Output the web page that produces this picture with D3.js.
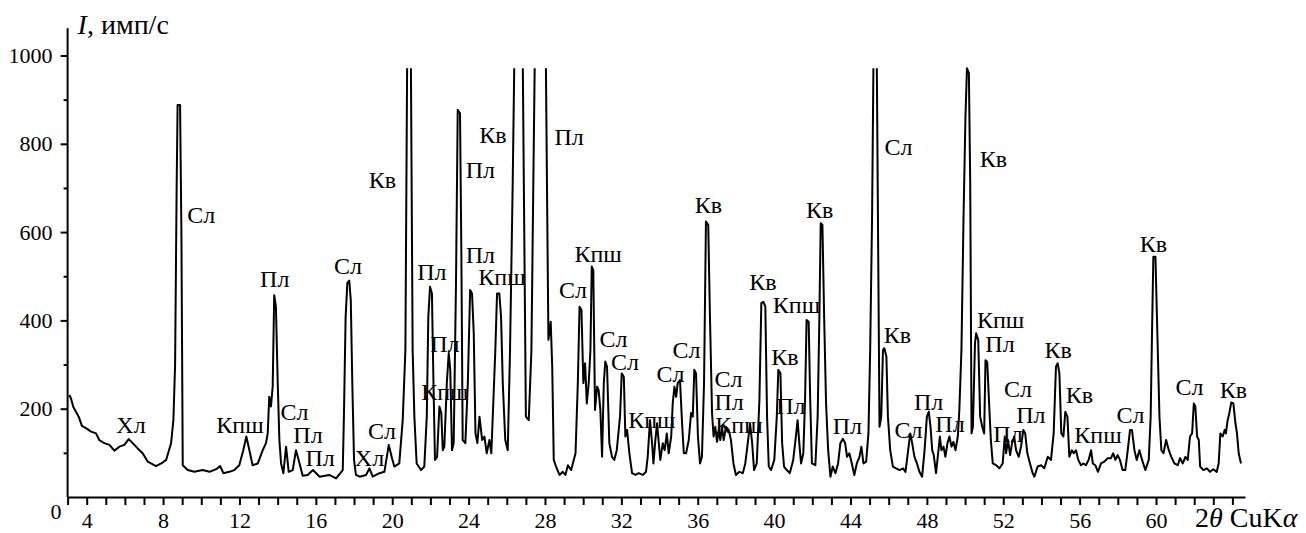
<!DOCTYPE html>
<html>
<head>
<meta charset="utf-8">
<script src="https://cdn.jsdelivr.net/npm/d3@7"></script>
<style>
  body { margin: 0; background: #fff; }
</style>
</head>
<body>
<div id="chart"></div>
<script>
// diffraction pattern: 2theta (deg) and intensity (imp/s)
const twoTheta = [
  3.09, 3.18, 3.30, 3.44, 3.58, 3.75, 3.96, 4.23, 4.49, 4.66, 4.92, 5.19, 5.45, 5.71, 5.97, 6.20, 6.41, 6.67, 6.93, 7.20,
  7.63, 7.98, 8.16, 8.42, 8.54, 8.63, 8.71, 8.76, 8.89, 8.96, 9.03, 9.29, 9.64, 10.07, 10.43, 10.78, 10.99, 11.16, 11.47, 11.73,
  11.99, 12.20, 12.36, 12.52, 12.69, 12.96, 13.22, 13.39, 13.48, 13.56, 13.65, 13.74, 13.82, 13.91, 14.00, 14.09, 14.18, 14.30, 14.44, 14.58,
  14.79, 14.96, 15.10, 15.31, 15.57, 15.85, 16.20, 16.70, 17.06, 17.41, 17.47, 17.56, 17.65, 17.75, 17.83, 17.91, 18.00, 18.10, 18.30, 18.63,
  18.81, 18.98, 19.33, 19.59, 19.82, 19.99, 20.11, 20.37, 20.55, 20.69, 20.78, 20.98, 21.07, 21.16, 21.28, 21.51, 21.68, 21.81, 21.89, 21.98,
  22.08, 22.16, 22.24, 22.35, 22.47, 22.57, 22.65, 22.73, 22.86, 22.96, 23.04, 23.13, 23.22, 23.34, 23.43, 23.55, 23.62, 23.69, 23.83, 23.96,
  24.08, 24.18, 24.27, 24.36, 24.46, 24.57, 24.71, 24.83, 24.95, 25.09, 25.19, 25.30, 25.40, 25.49, 25.61, 25.70, 25.79, 25.92, 26.05, 26.17,
  26.31, 26.39, 26.84, 27.00, 27.15, 27.29, 27.39, 27.46, 28.05, 28.12, 28.18, 28.30, 28.38, 28.46, 28.58, 28.76, 28.93, 29.07, 29.20, 29.37,
  29.60, 29.72, 29.81, 29.91, 30.01, 30.10, 30.19, 30.29, 30.38, 30.45, 30.53, 30.62, 30.73, 30.81, 30.90, 30.99, 31.08, 31.16, 31.25, 31.37,
  31.51, 31.63, 31.76, 31.93, 32.02, 32.13, 32.21, 32.30, 32.42, 32.56, 32.74, 32.91, 33.12, 33.29, 33.38, 33.50, 33.61, 33.68, 33.78, 33.87,
  33.96, 34.04, 34.17, 34.27, 34.38, 34.48, 34.61, 34.69, 34.78, 34.87, 34.95, 35.07, 35.18, 35.27, 35.39, 35.53, 35.65, 35.74, 35.82, 35.91,
  36.01, 36.12, 36.22, 36.33, 36.43, 36.55, 36.64, 36.75, 36.83, 36.92, 37.01, 37.10, 37.18, 37.27, 37.36, 37.48, 37.62, 37.74, 37.87, 38.00,
  38.18, 38.36, 38.49, 38.62, 38.74, 38.85, 38.95, 39.09, 39.23, 39.33, 39.44, 39.54, 39.63, 39.72, 39.84, 40.01, 40.14, 40.22, 40.33, 40.42,
  40.52, 40.66, 40.82, 41.00, 41.14, 41.23, 41.32, 41.41, 41.53, 41.62, 41.70, 41.81, 41.89, 41.98, 42.16, 42.28, 42.37, 42.44, 42.53, 42.62,
  42.72, 42.83, 42.95, 43.07, 43.21, 43.35, 43.47, 43.60, 43.72, 43.82, 43.94, 44.07, 44.20, 44.33, 44.47, 44.57, 44.68, 44.82, 44.94, 45.03,
  45.13, 45.20, 45.38, 45.45, 45.52, 45.61, 45.70, 45.77, 45.88, 45.96, 46.08, 46.22, 46.39, 46.57, 46.75, 46.88, 47.02, 47.13, 47.23, 47.35,
  47.48, 47.61, 47.75, 47.88, 48.00, 48.10, 48.19, 48.28, 48.36, 48.48, 48.59, 48.68, 48.76, 48.87, 48.97, 49.08, 49.18, 49.29, 49.39, 49.50,
  49.62, 49.70, 49.81, 49.92, 50.02, 50.10, 50.20, 50.27, 50.34, 50.41, 50.52, 50.58, 50.69, 50.79, 50.90, 51.00, 51.07, 51.16, 51.25, 51.35,
  51.45, 51.63, 51.80, 51.97, 52.08, 52.15, 52.25, 52.36, 52.46, 52.57, 52.67, 52.81, 52.93, 53.05, 53.15, 53.26, 53.40, 53.54, 53.63, 53.80,
  53.98, 54.15, 54.33, 54.50, 54.64, 54.76, 54.85, 54.94, 55.04, 55.15, 55.25, 55.36, 55.46, 55.59, 55.69, 55.81, 55.93, 56.07, 56.19, 56.33,
  56.47, 56.60, 56.69, 56.82, 56.96, 57.12, 57.29, 57.47, 57.64, 57.76, 57.87, 57.99, 58.11, 58.25, 58.39, 58.52, 58.64, 58.74, 58.87, 58.99,
  59.13, 59.27, 59.44, 59.62, 59.72, 59.79, 59.86, 59.97, 60.07, 60.18, 60.28, 60.39, 60.53, 60.67, 60.80, 60.96, 61.14, 61.26, 61.40, 61.54,
  61.66, 61.78, 61.89, 61.98, 62.06, 62.15, 62.24, 62.31, 62.48, 62.66, 62.83, 63.00, 63.18, 63.28, 63.37, 63.49, 63.60, 63.66, 63.75, 63.84,
  63.94, 64.05, 64.16, 64.24, 64.33, 64.45
];
const intensity = [
  231, 223, 204, 193, 182, 161, 156, 148, 144, 129, 122, 118, 105, 114, 118, 131, 122, 110, 99, 80,
  70, 78, 84, 122, 174, 300, 700, 888, 888, 600, 72, 61, 57, 61, 57, 63, 70, 54, 57, 61,
  72, 106, 137, 106, 72, 76, 106, 122, 144, 227, 205, 250, 457, 431, 265, 129, 76, 54, 114, 57,
  61, 106, 84, 48, 50, 61, 46, 50, 42, 61, 182, 408, 485, 490, 446, 258, 84, 50, 46, 50,
  65, 46, 54, 57, 118, 88, 69, 76, 174, 333, 971, 971, 333, 182, 76, 61, 69, 182, 408, 476,
  461, 258, 84, 91, 205, 190, 106, 114, 258, 326, 288, 106, 122, 484, 877, 869, 559, 129, 122, 258,
  469, 461, 371, 144, 122, 182, 129, 137, 99, 129, 99, 220, 333, 461, 461, 408, 258, 129, 106, 333,
  711, 971, 971, 182, 174, 333, 711, 971, 971, 635, 356, 397, 295, 84, 69, 50, 57, 50, 72, 61,
  99, 258, 431, 424, 258, 303, 212, 258, 333, 522, 514, 197, 250, 242, 197, 91, 258, 307, 295, 122,
  91, 84, 106, 182, 280, 272, 137, 152, 99, 54, 50, 54, 50, 57, 91, 174, 122, 76, 129, 167,
  122, 84, 122, 106, 144, 99, 137, 212, 250, 227, 258, 265, 167, 99, 99, 129, 190, 182, 288, 280,
  137, 76, 91, 258, 624, 616, 408, 190, 137, 159, 125, 152, 129, 159, 129, 159, 152, 129, 76, 50,
  57, 54, 76, 122, 167, 122, 61, 76, 220, 439, 442, 431, 182, 69, 61, 84, 182, 288, 280, 122,
  69, 61, 54, 84, 137, 174, 122, 76, 99, 220, 401, 397, 220, 76, 72, 182, 408, 620, 616, 408,
  212, 106, 46, 69, 54, 76, 122, 132, 122, 91, 99, 76, 50, 76, 91, 114, 76, 80, 144, 333,
  635, 971, 971, 559, 159, 182, 333, 337, 318, 182, 106, 69, 65, 61, 65, 57, 106, 144, 122, 91,
  76, 57, 46, 106, 182, 193, 159, 106, 95, 54, 99, 137, 106, 114, 91, 122, 137, 114, 125, 106,
  137, 197, 333, 635, 861, 971, 960, 711, 144, 159, 348, 371, 356, 182, 159, 144, 310, 306, 220, 129,
  76, 72, 65, 76, 137, 99, 129, 95, 122, 137, 106, 91, 114, 152, 144, 99, 76, 54, 46, 69,
  72, 65, 91, 84, 144, 295, 303, 280, 144, 137, 193, 182, 91, 106, 99, 106, 84, 72, 76, 72,
  84, 106, 76, 72, 57, 76, 80, 88, 88, 99, 84, 95, 84, 61, 61, 106, 152, 152, 106, 84,
  106, 84, 61, 84, 182, 371, 544, 544, 371, 182, 106, 99, 129, 106, 91, 76, 72, 88, 76, 91,
  84, 137, 144, 212, 205, 137, 129, 69, 61, 65, 57, 63, 57, 76, 144, 137, 152, 144, 174, 190,
  214, 212, 167, 144, 99, 76
];
// peaks above this level are cut off in the picture
const clipLevel = 971;

// phase labels: text, 2theta of the label centre, intensity level of its baseline
const labelText = [
  "Хл", "Сл", "Кпш", "Пл", "Сл", "Пл", "Пл", "Сл", "Хл", "Сл",
  "Кв", "Пл", "Пл", "Кпш", "Кв", "Пл", "Пл", "Кпш", "Пл", "Сл",
  "Кпш", "Сл", "Сл", "Кпш", "Сл", "Сл", "Кв", "Сл", "Пл", "Кпш",
  "Кв", "Кпш", "Кв", "Пл", "Кв", "Пл", "Сл", "Кв", "Сл", "Пл",
  "Пл", "Кв", "Кпш", "Пл", "Сл", "Пл", "Пл", "Кв", "Кв", "Кпш",
  "Сл", "Кв", "Сл", "Кв"
];
const labelTheta = [
  6.32, 10.00, 12.03, 13.85, 14.88, 15.59, 16.22, 17.68, 18.81, 19.46,
  19.49, 22.08, 22.76, 22.76, 25.28, 24.62, 24.62, 25.75, 29.26, 29.47,
  30.78, 31.59, 32.19, 33.60, 34.57, 35.41, 36.56, 37.61, 37.64, 38.16,
  39.42, 41.17, 40.57, 40.88, 42.38, 43.84, 46.51, 46.46, 47.04, 48.09,
  49.21, 51.49, 51.86, 51.83, 52.77, 53.45, 52.25, 54.87, 55.99, 56.96,
  58.66, 59.87, 61.75, 64.06
];
const labelLevel = [
  145, 621, 145, 476, 174, 122, 70, 505, 70, 131,
  701, 492, 328, 220, 802, 723, 530, 480, 797, 451,
  532, 340, 288, 156, 260, 315, 643, 250, 197, 145,
  469, 417, 299, 188, 632, 143, 775, 349, 134, 197,
  147, 747, 383, 328, 226, 168, 125, 315, 213, 122,
  168, 555, 231, 224
];

const xTicks = d3.range(3, 65);
const xLabelled = d3.range(4, 61, 4);
const yTicks = d3.range(100, 1001, 100);
const yTop = 1062;

const FONT = "'Liberation Serif', 'Times New Roman', 'DejaVu Serif', serif";
const W = 1306, H = 533;
const svg = d3.select("#chart").append("svg")
  .attr("width", W).attr("height", H)
  .style("font-family", FONT);

const x = d3.scaleLinear().domain([3, 64.66]).range([67.6, 1245]);
const y = d3.scaleLinear().domain([0, 1000]).range([497, 55.5]);

// x axis
const gx = svg.append("g")
  .attr("transform", `translate(0,${y(0)})`)
  .call(d3.axisBottom(x)
    .tickValues(xTicks)
    .tickSize(8)
    .tickSizeOuter(0)
    .tickPadding(7)
    .tickFormat(d => xLabelled.includes(d) ? d : ""));
gx.attr("font-family", null);
gx.selectAll("text").style("font-size", "22px").style("font-family", FONT).attr("fill", "#000");
gx.selectAll("line, path").attr("stroke", "#000").attr("stroke-width", 2);

// y axis, minor ticks every 100
const gy = svg.append("g")
  .attr("transform", `translate(${x(3)},0)`)
  .call(d3.axisLeft(y)
    .tickValues(yTicks)
    .tickSizeOuter(0)
    .tickSize(7)
    .tickPadding(8)
    .tickFormat(d => d % 200 === 0 ? d : ""));
gy.attr("font-family", null);
gy.select(".domain").attr("d", `M0,${y(0)}V${y(yTop)}`);
gy.selectAll(".tick line").attr("x2", d => d % 200 === 0 ? -7 : -4);
gy.selectAll("text").style("font-size", "22px").style("font-family", FONT).attr("fill", "#000");
gy.selectAll("line, path").attr("stroke", "#000").attr("stroke-width", 2);

// origin label
svg.append("text")
  .attr("x", x(3) - 6).attr("y", y(0) + 22)
  .attr("text-anchor", "end")
  .style("font-size", "22px")
  .text("0");

// axis titles
const yt = svg.append("text")
  .attr("x", x(3) + 10).attr("y", 34)
  .style("font-size", "28px");
yt.append("tspan").attr("font-style", "italic").text("I");
yt.append("tspan").text(", имп/с");

const xt = svg.append("text")
  .attr("x", 1195).attr("y", 527)
  .style("font-size", "28px");
xt.append("tspan").text("2");
xt.append("tspan").attr("font-style", "italic").text("θ");
xt.append("tspan").text(" CuK");
xt.append("tspan").attr("font-style", "italic").text("α");

// pattern: split where a peak runs off the top so the cut tops stay open
const pts = twoTheta.map((t, i) => [t, intensity[i]]);
const pieces = [[pts[0]]];
for (let i = 1; i < pts.length; i++) {
  if (pts[i][1] >= clipLevel && pts[i - 1][1] >= clipLevel) pieces.push([]);
  pieces[pieces.length - 1].push(pts[i]);
}
const line = d3.line()
  .x(d => x(d[0]))
  .y(d => y(d[1]));
svg.append("g")
  .selectAll("path")
  .data(pieces)
  .join("path")
  .attr("fill", "none")
  .attr("stroke", "#000")
  .attr("stroke-width", 2)
  .attr("stroke-linejoin", "round")
  .attr("d", line);

// phase labels
svg.append("g")
  .selectAll("text")
  .data(labelText)
  .join("text")
  .attr("x", (d, i) => x(labelTheta[i]))
  .attr("y", (d, i) => y(labelLevel[i]))
  .attr("text-anchor", "middle")
  .style("font-size", "24px")
  .text(d => d);
</script>
</body>
</html>
